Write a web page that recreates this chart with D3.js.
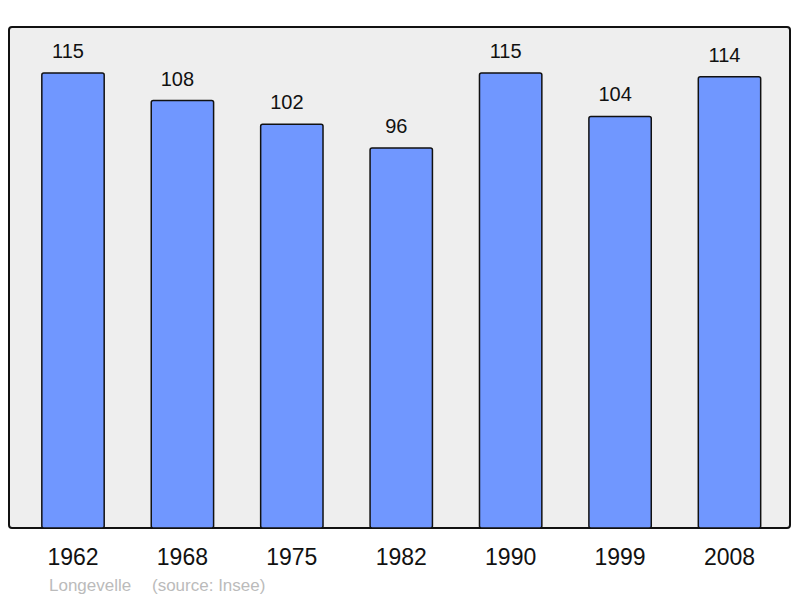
<!DOCTYPE html>
<html>
<head>
<meta charset="utf-8">
<script src="https://cdn.jsdelivr.net/npm/d3@7"></script>
<style>
body { margin: 0; background: #fff; }
text { font-family: "Liberation Sans", Arial, sans-serif; }
</style>
</head>
<body>
<svg id="chart"></svg>
<script>
var years = ["1962", "1968", "1975", "1982", "1990", "1999", "2008"];
var population = [115, 108, 102, 96, 115, 104, 114];
var commune = "Longevelle";
var source = "(source: Insee)";

var width = 800,
    height = 598;

var svg = d3.select("#chart").attr("width", width).attr("height", height);

// panel
var panelLeft = 9, panelRight = 790, panelTop = 27, panelBottom = 528;

svg.append("rect")
	.attr("x", panelLeft).attr("y", panelTop)
	.attr("width", panelRight - panelLeft).attr("height", panelBottom - panelTop)
	.attr("rx", 3)
	.attr("fill", "#eeeeee")
	.attr("stroke", "#111")
	.attr("stroke-width", 2);

var x = d3.scaleBand()
	.domain(years)
	.range([18.3, 784.2])
	.paddingInner(0.43)
	.paddingOuter(0.215);

var y = d3.scaleLinear()
	.domain([0, 126.6])
	.range([panelBottom, panelTop]);

// bars
svg.selectAll(".bar")
	.data(years)
	.enter().append("rect")
	.attr("class", "bar")
	.attr("x", function(d) { return x(d); })
	.attr("y", function(d, i) { return y(population[i]); })
	.attr("width", x.bandwidth())
	.attr("height", function(d, i) { return panelBottom - y(population[i]); })
	.attr("rx", 2)
	.attr("fill", "#7097ff")
	.attr("stroke", "#111")
	.attr("stroke-width", 1.5);

// value labels (sit a little left of the bar centre, like the original)
svg.selectAll(".val")
	.data(years)
	.enter().append("text")
	.attr("class", "val")
	.attr("x", function(d) { return x(d) + x.bandwidth() / 2 - 5; })
	.attr("y", function(d, i) { return y(population[i]) - 15; })
	.attr("text-anchor", "middle")
	.style("font-size", "20px")
	.attr("fill", "#111")
	.text(function(d, i) { return population[i]; });

// year labels
svg.selectAll(".year")
	.data(years)
	.enter().append("text")
	.attr("class", "year")
	.attr("x", function(d) { return x(d) + x.bandwidth() / 2; })
	.attr("y", 565)
	.attr("text-anchor", "middle")
	.style("font-size", "23px")
	.attr("fill", "#111")
	.text(function(d) { return d; });

// footer
svg.append("text").text(commune).attr("x", 49).attr("y", 591)
	.style("font-size", "17px").attr("fill", "#bbbbbb");
svg.append("text").text(source).attr("x", 152).attr("y", 591)
	.style("font-size", "17px").attr("fill", "#bbbbbb");
</script>
</body>
</html>
